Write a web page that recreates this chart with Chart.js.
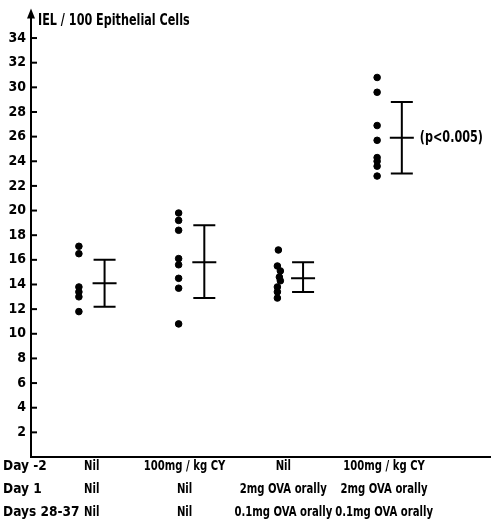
<!DOCTYPE html>
<html>
<head>
<meta charset="utf-8">
<script src="https://cdn.jsdelivr.net/npm/chart.js@4.4.1/dist/chart.umd.min.js"></script>
<style>
  body { margin: 0; background: #fff; }
  #wrap { width: 495px; height: 523px; }
</style>
</head>
<body>
<div id="wrap"><canvas id="myChart"></canvas></div>
<script>
// individual animals, IEL per 100 epithelial cells
const group1 = [17.1, 16.5, 13.8, 13.4, 13.0, 11.8]
const group2 = [19.8, 19.2, 18.4, 16.1, 15.6, 14.5, 13.7, 10.8]
const group3 = [16.8, 15.5, 15.1, 14.6, 14.3, 13.8, 13.4, 12.9]
const group4 = [30.8, 29.6, 26.9, 25.7, 24.3, 24.0, 23.6, 22.8]
const dotX = [1.0, 2.01, 3.0, 4.02]
const jitter3 = [0.02, 0.01, 0.04, 0.03, 0.04, 0.01, 0.01, 0.01]

// mean and error bar per group
const barX = [1.26, 2.27, 3.27, 4.27]
const means = [14.1, 15.8, 14.5, 25.9]
const upper = [16.0, 18.8, 15.8, 28.8]
const lower = [12.2, 12.9, 13.4, 23.0]

const yTicks = [2, 4, 6, 8, 10, 12, 14, 16, 18, 20, 22, 24, 26, 28, 30, 32, 34]
const rowNames = ['Day -2', 'Day 1', 'Days 28-37']
const labelX = [1.13, 2.07, 3.07, 4.09]
const rowLabels = [
  ['Nil', '100mg / kg CY', 'Nil', '100mg / kg CY'],
  ['Nil', 'Nil', '2mg OVA orally', '2mg OVA orally'],
  ['Nil', 'Nil', '0.1mg OVA orally', '0.1mg OVA orally']
]
const yTitle = 'IEL / 100 Epithelial Cells'
const pNote = '(p<0.005)'

const FONT = "'DejaVu Sans Condensed', 'Liberation Sans Narrow', sans-serif"

let groups = [group1, group2, group3, group4]
let points = []
groups.forEach((g, i) => {
  g.forEach((v, j) => {
    let jx = i == 2 ? jitter3[j] : 0
    points.push({x: dotX[i] + jx, y: v})
  })
})

// squeeze text, the scan uses a narrow typeface
function narrowText(ctx, s, x, y, f) {
  let w = ctx.measureText(s).width
  ctx.fillText(s, x, y, w * f)
}

const extras = {
  id: 'extras',
  afterDatasetsDraw(chart) {
    const ctx = chart.ctx
    const xs = chart.scales.x, ys = chart.scales.y
    const ax = chart.chartArea.left
    ctx.save()
    ctx.strokeStyle = '#000'
    ctx.fillStyle = '#000'
    ctx.lineWidth = 2

    // inward tick marks
    yTicks.forEach((t) => {
      let py = ys.getPixelForValue(t)
      ctx.beginPath()
      ctx.moveTo(ax, py)
      ctx.lineTo(ax + 6, py)
      ctx.stroke()
    })

    // arrow head on y axis
    let top = chart.chartArea.top
    ctx.beginPath()
    ctx.moveTo(ax, top - 5)
    ctx.lineTo(ax - 4, top + 5)
    ctx.lineTo(ax + 4, top + 5)
    ctx.closePath()
    ctx.fill()

    // error bars
    for (let i = 0; i < barX.length; i++) {
      let px = xs.getPixelForValue(barX[i])
      let pu = ys.getPixelForValue(upper[i])
      let pl = ys.getPixelForValue(lower[i])
      let pm = ys.getPixelForValue(means[i])
      ctx.beginPath()
      ctx.moveTo(px, pu); ctx.lineTo(px, pl)
      ctx.moveTo(px - 11, pu); ctx.lineTo(px + 11, pu)
      ctx.moveTo(px - 11, pl); ctx.lineTo(px + 11, pl)
      ctx.moveTo(px - 12, pm); ctx.lineTo(px + 12, pm)
      ctx.stroke()
    }

    // texts
    ctx.textBaseline = 'middle'
    ctx.textAlign = 'left'
    ctx.font = 'bold 15px ' + FONT
    narrowText(ctx, yTitle, ax + 7, 21, 0.83)
    narrowText(ctx, pNote, xs.getPixelForValue(barX[3]) + 18, ys.getPixelForValue(means[3]), 0.83)

    ctx.font = 'bold 14px ' + FONT
    const rowY = [466, 489, 512]
    rowNames.forEach((r, k) => {
      ctx.textAlign = 'left'
      narrowText(ctx, r, 3, rowY[k], 0.97)
      ctx.textAlign = 'center'
      rowLabels[k].forEach((lab, i) => {
        narrowText(ctx, lab, xs.getPixelForValue(labelX[i]), rowY[k], 0.8)
      })
    })
    ctx.restore()
  }
}

var ctx = document.getElementById('myChart').getContext('2d')

var myChart = new Chart(ctx, {
  type: 'scatter',
  data: {
    datasets: [{
      data: points,
      backgroundColor: '#000',
      borderColor: '#000',
      pointRadius: 3.3,
      pointHoverRadius: 3.3
    }]
  },
  options: {
    responsive: true,
    maintainAspectRatio: false,
    animation: false,
    layout: { padding: { left: 0, right: 1, top: 10, bottom: 0 } },
    plugins: { legend: { display: false }, tooltip: { enabled: false } },
    scales: {
      x: {
        type: 'linear',
        min: 0.515,
        max: 5.17,
        afterFit: (s) => { s.height = 66 },
        grid: { display: false, drawTicks: false },
        border: { display: true, color: '#000', width: 2 },
        ticks: { display: false }
      },
      y: {
        min: 0,
        max: 36,
        afterFit: (s) => { s.width = 31 },
        grid: { display: false, drawTicks: false },
        border: { display: true, color: '#000', width: 2 },
        ticks: {
          stepSize: 2,
          padding: 5,
          color: '#000',
          font: { family: FONT, size: 14, weight: 'bold' },
          callback: (v) => (v == 0 || v == 36) ? '' : v
        }
      }
    }
  },
  plugins: [extras]
})
</script>
</body>
</html>
